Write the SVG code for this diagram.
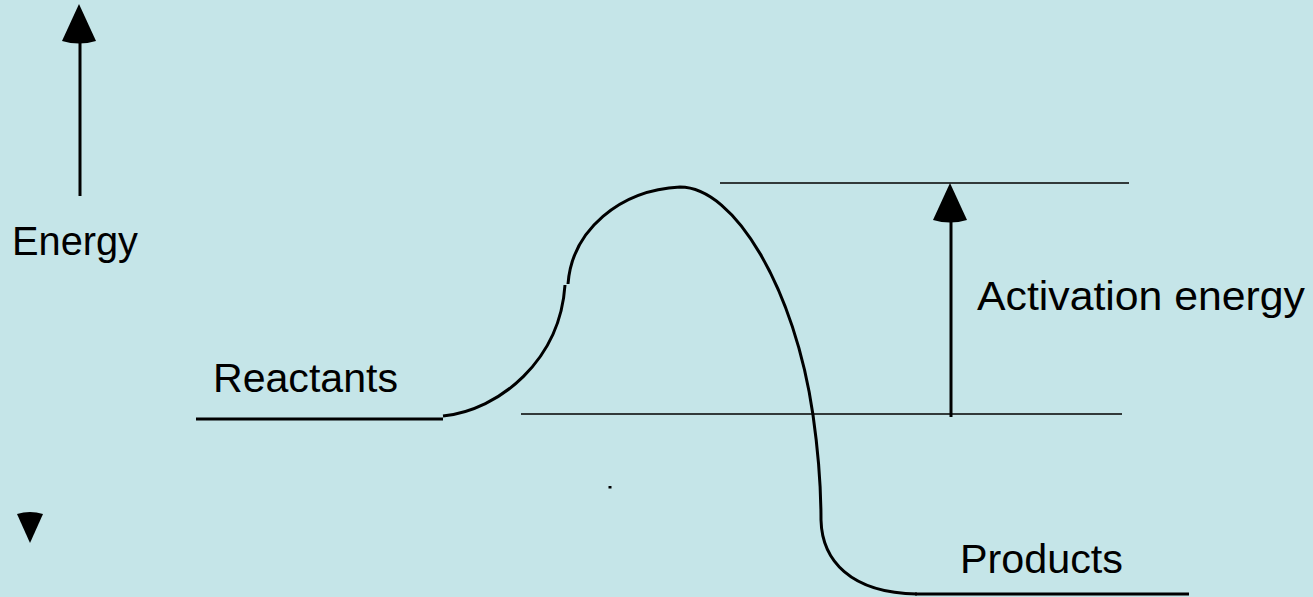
<svg xmlns="http://www.w3.org/2000/svg" width="1313" height="597" viewBox="0 0 1313 597">
<style>
.lbl{font-family:"Liberation Sans",Arial,sans-serif;font-size:40px;fill:#000}
.thick{stroke:#000;stroke-width:3;fill:none}
.thin{stroke:#000;stroke-width:1.5;fill:none}
.head{fill:#000;stroke:none}
</style>
<rect x="0" y="0" width="1313" height="597" fill="#C5E5E8"/>
<g id="energy-axis">
<line class="thick" x1="80" y1="42" x2="80" y2="196"/>
<path class="head" d="M79,4 L96,41 Q79,46 62,41 Z"/>
<path class="head" d="M17,514 Q30,510 43,514 L30,543 Z"/>
<text class="lbl" x="12" y="255" textLength="126" lengthAdjust="spacingAndGlyphs">Energy</text>
</g>
<g id="reactants">
<line class="thick" x1="196" y1="419" x2="443" y2="419"/>
<text class="lbl" x="213" y="392" textLength="185" lengthAdjust="spacingAndGlyphs">Reactants</text>
</g>
<g id="products">
<line class="thick" x1="915" y1="594" x2="1189" y2="594"/>
<text class="lbl" x="960" y="573" textLength="163" lengthAdjust="spacingAndGlyphs">Products</text>
</g>
<g id="activation-energy">
<line class="thin" x1="720" y1="183" x2="1129" y2="183"/>
<line class="thin" x1="521" y1="414" x2="1122" y2="414"/>
<line class="thick" x1="951" y1="221" x2="951" y2="417"/>
<path class="head" d="M950,183 L967,220 Q950,225 933,220 Z"/>
<text class="lbl" x="977" y="310" textLength="328" lengthAdjust="spacingAndGlyphs">Activation energy</text>
</g>
<g id="connectors">
<path class="thick" d="M443,416 C500,410 560,360 565,285"/>
<path class="thick" d="M568,284 C572,230 620,190 680,187 C735,187 795,290 813,415 C818,450 821,490 821,520 C822,560 850,593 917,594"/>
</g>
<rect x="608.5" y="486" width="3" height="2.5" fill="#000"/>
</svg>
